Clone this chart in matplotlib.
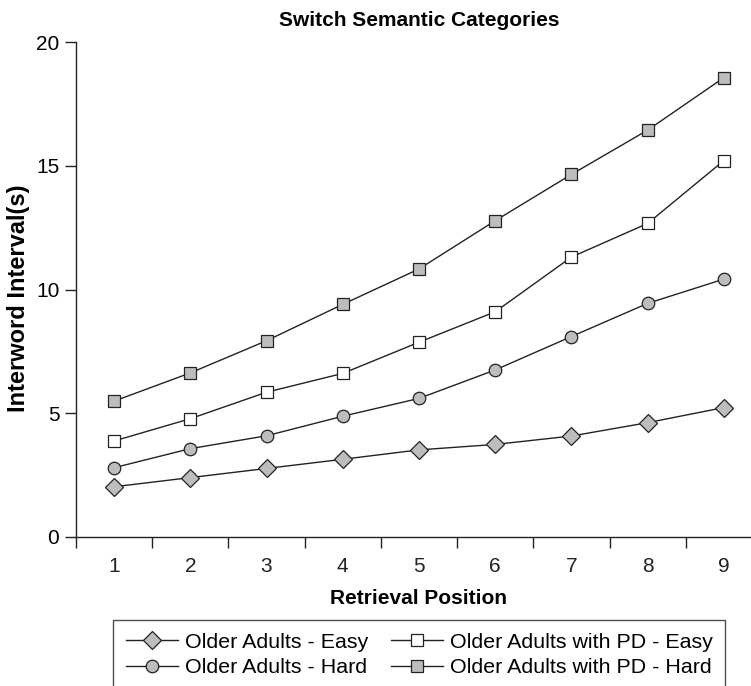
import matplotlib
matplotlib.use("Agg")
import matplotlib.pyplot as plt
from matplotlib.ticker import FixedLocator

plt.rcParams['font.family'] = ['Liberation Sans', 'DejaVu Sans']

positions = [1, 2, 3, 4, 5, 6, 7, 8, 9]
older_easy = [2.03, 2.40, 2.77, 3.14, 3.52, 3.74, 4.08, 4.62, 5.23]
older_hard = [2.80, 3.57, 4.09, 4.88, 5.60, 6.75, 8.10, 9.44, 10.42]
pd_easy = [3.88, 4.78, 5.85, 6.61, 7.87, 9.10, 11.31, 12.67, 15.21]
pd_hard = [5.49, 6.63, 7.93, 9.40, 10.83, 12.78, 14.65, 16.44, 18.56]
labels = ["Older Adults - Easy", "Older Adults - Hard",
          "Older Adults with PD - Easy", "Older Adults with PD - Hard"]
y_ticks = [0, 5, 10, 15, 20]

W, H = 751, 686
fig = plt.figure(figsize=(W / 100, H / 100), dpi=100)
ax = fig.add_axes([76 / W, 1 - 537 / H, 686 / W, (537 - 42) / H])

gray = '#bdbdbf'
edge = '#222222'
common = dict(color=edge, linewidth=1.0, markeredgecolor=edge, markeredgewidth=0.9)
h1, = ax.plot(positions, older_easy, marker='D', markersize=9, markerfacecolor=gray, **common)
h2, = ax.plot(positions, older_hard, marker='o', markersize=9, markerfacecolor=gray, **common)
h3, = ax.plot(positions, pd_easy, marker='s', markersize=9, markerfacecolor='white', **common)
h4, = ax.plot(positions, pd_hard, marker='s', markersize=9, markerfacecolor=gray, **common)

ax.set_xlim(0.5, 9.5)
ax.set_ylim(0, 20)
ax.set_yticks(y_ticks)
ax.set_xticks(positions)
ax.xaxis.set_minor_locator(FixedLocator([p - 0.5 for p in positions]))
ax.tick_params(axis='x', which='major', length=0, labelsize=15, pad=14.5, colors='#222222')
ax.tick_params(axis='x', which='minor', length=8, width=1, direction='out', color='#222222')
ax.tick_params(axis='y', length=8, width=1, direction='out', labelsize=15, color='#222222', pad=4)
for s in ['top', 'right']:
    ax.spines[s].set_visible(False)
for s in ['left', 'bottom']:
    ax.spines[s].set_linewidth(1.0)
    ax.spines[s].set_color('#222222')

ax.set_title("Switch Semantic Categories", fontsize=15, fontweight='bold', pad=11.5)
ax.set_ylabel("Interword Interval(s)", fontsize=17, fontweight='bold')
ax.yaxis.set_label_coords(-0.067, 0.483)
ax.set_xlabel("Retrieval Position", fontsize=15, fontweight='bold', labelpad=9)

leg = fig.legend([h1, h2, h3, h4], labels, ncol=2, loc='upper left',
                 bbox_to_anchor=(113 / W, 1 - 620 / H), fontsize=15.4,
                 frameon=True, fancybox=False, borderaxespad=0, borderpad=0.6,
                 handlelength=2.45, handletextpad=0.3, columnspacing=1.07,
                 labelspacing=0.3)
leg.get_frame().set_edgecolor('#222222')
leg.get_frame().set_linewidth(1.0)

fig.savefig("out.png", dpi=100)
